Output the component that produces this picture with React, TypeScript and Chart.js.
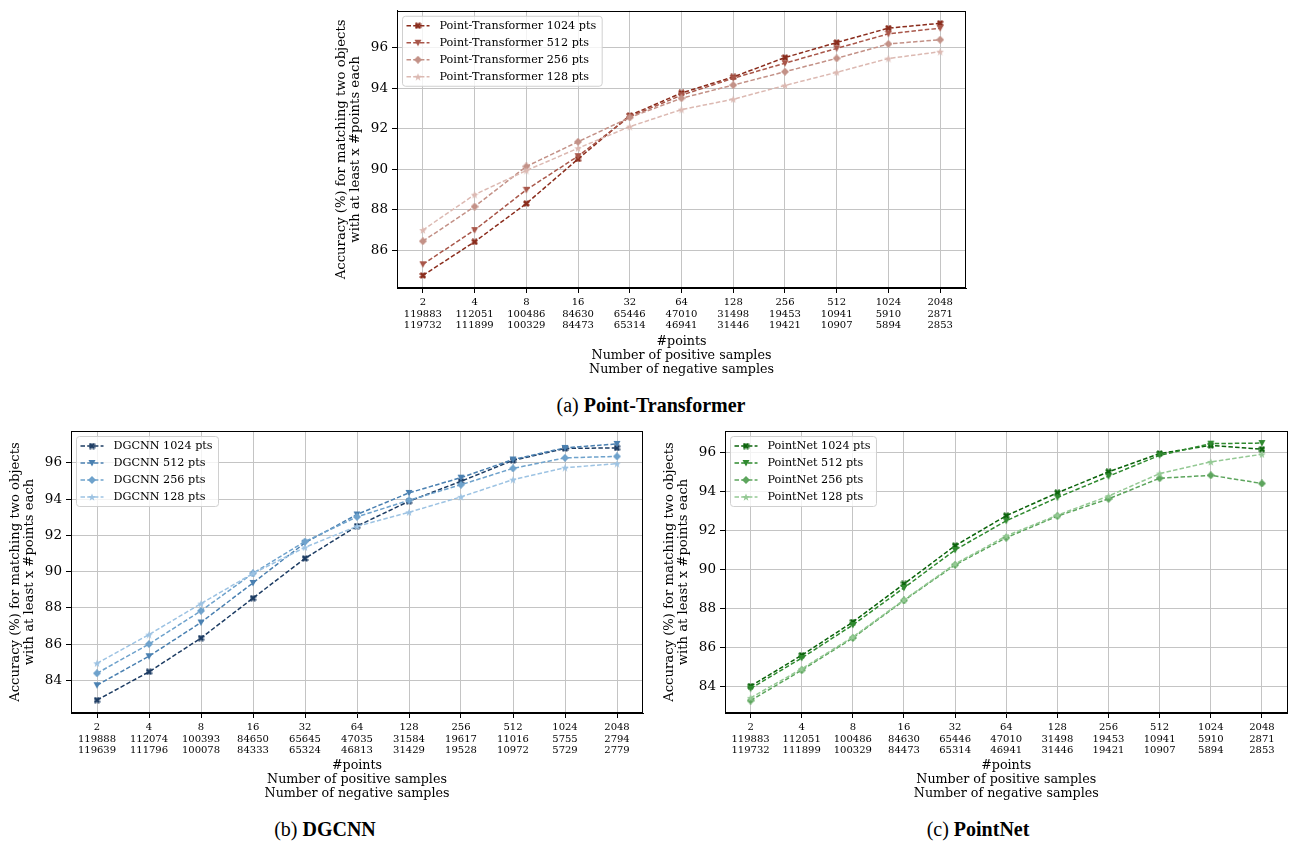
import React, { useEffect, useRef } from "react";
import { Chart, registerables } from "chart.js";

Chart.register(...registerables);

// ---------- data ----------
const pointCounts = ["2", "4", "8", "16", "32", "64", "128", "256", "512", "1024", "2048"];

const ptPositive = [119883, 112051, 100486, 84630, 65446, 47010, 31498, 19453, 10941, 5910, 2871];
const ptNegative = [119732, 111899, 100329, 84473, 65314, 46941, 31446, 19421, 10907, 5894, 2853];

const dgPositive = [119888, 112074, 100393, 84650, 65645, 47035, 31584, 19617, 11016, 5755, 2794];
const dgNegative = [119639, 111796, 100078, 84333, 65324, 46813, 31429, 19528, 10972, 5729, 2779];

const pnPositive = [119883, 112051, 100486, 84630, 65446, 47010, 31498, 19453, 10941, 5910, 2871];
const pnNegative = [119732, 111899, 100329, 84473, 65314, 46941, 31446, 19421, 10907, 5894, 2853];

const seriesSuffixes = ["1024 pts", "512 pts", "256 pts", "128 pts"];

const pt1024 = [84.76, 86.42, 88.31, 90.51, 92.66, 93.77, 94.56, 95.52, 96.26, 96.97, 97.21];
const pt512 = [85.31, 87.0, 88.99, 90.65, 92.6, 93.66, 94.5, 95.24, 95.97, 96.69, 96.97];
const pt256 = [86.45, 88.16, 90.14, 91.36, 92.56, 93.51, 94.16, 94.82, 95.48, 96.19, 96.4];
const pt128 = [87.0, 88.75, 89.94, 91.04, 92.11, 92.95, 93.46, 94.14, 94.79, 95.47, 95.81];

const dg1024 = [82.92, 84.48, 86.34, 88.54, 90.73, 92.51, 93.88, 94.98, 96.13, 96.79, 96.82];
const dg512 = [83.74, 85.34, 87.2, 89.38, 91.59, 93.15, 94.34, 95.18, 96.18, 96.82, 97.04];
const dg256 = [84.4, 86.01, 87.84, 89.91, 91.66, 93.02, 93.93, 94.79, 95.69, 96.27, 96.35];
const dg128 = [84.95, 86.53, 88.24, 89.9, 91.34, 92.5, 93.27, 94.12, 95.07, 95.73, 95.95];

const pn1024 = [84.0, 85.59, 87.3, 89.26, 91.23, 92.77, 93.95, 95.03, 95.97, 96.39, 96.19];
const pn512 = [83.88, 85.45, 87.15, 89.06, 91.01, 92.51, 93.71, 94.8, 95.88, 96.48, 96.51];
const pn256 = [83.26, 84.82, 86.48, 88.41, 90.24, 91.64, 92.75, 93.64, 94.7, 94.85, 94.43];
const pn128 = [83.4, 84.89, 86.53, 88.44, 90.29, 91.73, 92.8, 93.78, 94.94, 95.54, 95.93];

const yTickStep = 2;
const xTitleLines = ["#points", "Number of positive samples", "Number of negative samples"];
const yTitleLines = ["Accuracy (%) for matching two objects", "with at least x #points each"];

const ptColors = ["#8a2c1c", "#a9574a", "#c39187", "#dcb9b2"];
const dgColors = ["#1d3c63", "#4a80b1", "#6ea2cc", "#9dc3e3"];
const pnColors = ["#0b640b", "#2f8a2f", "#5da55d", "#94c994"];

const markerShapes = ["X", "v", "D", "*"];

const SERIF = "'DejaVu Serif', serif";

// ---------- markers ----------
function makeMarker(shape: string, color: string): HTMLCanvasElement {
  const s = shape === "X" ? 7 : 8;
  const c = document.createElement("canvas");
  c.width = s;
  c.height = s;
  const g = c.getContext("2d") as CanvasRenderingContext2D;
  g.fillStyle = color;
  g.strokeStyle = color;
  const m = s / 2;
  if (shape === "X") {
    g.lineWidth = 2.6;
    g.beginPath();
    g.moveTo(1, 1);
    g.lineTo(s - 1, s - 1);
    g.moveTo(s - 1, 1);
    g.lineTo(1, s - 1);
    g.stroke();
    g.fillRect(m - 1.5, m - 1.5, 3, 3);
  } else if (shape === "v") {
    g.beginPath();
    g.moveTo(0.5, 1);
    g.lineTo(s - 0.5, 1);
    g.lineTo(m, s - 0.5);
    g.closePath();
    g.fill();
  } else if (shape === "D") {
    g.beginPath();
    g.moveTo(m, 0);
    g.lineTo(s, m);
    g.lineTo(m, s);
    g.lineTo(0, m);
    g.closePath();
    g.fill();
  } else {
    const R = s / 2;
    const r = R * 0.42;
    g.beginPath();
    for (let i = 0; i < 10; i++) {
      const ang = -Math.PI / 2 + (i * Math.PI) / 5;
      const rad = i % 2 === 0 ? R : r;
      const x = m + rad * Math.cos(ang);
      const y = m + 0.4 + rad * Math.sin(ang);
      if (i === 0) g.moveTo(x, y);
      else g.lineTo(x, y);
    }
    g.closePath();
    g.fill();
  }
  return c;
}

// ---------- plugins ----------
const framePlugin = {
  id: "frame",
  afterDraw(chart: any) {
    const { ctx, chartArea: a } = chart;
    ctx.save();
    ctx.strokeStyle = "#000";
    ctx.lineWidth = 1;
    const l = Math.round(a.left) + 0.5;
    const t = Math.round(a.top) + 0.5;
    const r = Math.round(a.right) - 0.5;
    const b = Math.round(a.bottom) - 0.5;
    ctx.strokeRect(l, t, r - l, b - t);
    ctx.restore();
  },
};

const legendPlugin = {
  id: "mplLegend",
  afterDraw(chart: any) {
    const { ctx, chartArea: a } = chart;
    const ds = chart.data.datasets;
    ctx.save();
    ctx.font = `11.2px ${SERIF}`;
    let maxW = 0;
    ds.forEach((d: any) => {
      maxW = Math.max(maxW, ctx.measureText(d.label).width);
    });
    const bx = a.left + 5.5;
    const by = a.top + 5.5;
    const bw = 37 + maxW + 6;
    const bh = 70;
    const rad = 3;
    ctx.beginPath();
    ctx.moveTo(bx + rad, by);
    ctx.lineTo(bx + bw - rad, by);
    ctx.quadraticCurveTo(bx + bw, by, bx + bw, by + rad);
    ctx.lineTo(bx + bw, by + bh - rad);
    ctx.quadraticCurveTo(bx + bw, by + bh, bx + bw - rad, by + bh);
    ctx.lineTo(bx + rad, by + bh);
    ctx.quadraticCurveTo(bx, by + bh, bx, by + bh - rad);
    ctx.lineTo(bx, by + rad);
    ctx.quadraticCurveTo(bx, by, bx + rad, by);
    ctx.closePath();
    ctx.fillStyle = "rgba(255,255,255,0.8)";
    ctx.fill();
    ctx.strokeStyle = "#d0d0d0";
    ctx.lineWidth = 1;
    ctx.stroke();
    ds.forEach((d: any, i: number) => {
      const y = by + 9.5 + i * 17;
      ctx.save();
      ctx.strokeStyle = d.borderColor;
      ctx.lineWidth = d.borderWidth;
      ctx.setLineDash(d.borderDash);
      ctx.beginPath();
      ctx.moveTo(bx + 4, y);
      ctx.lineTo(bx + 27, y);
      ctx.stroke();
      ctx.restore();
      const mk = d.pointStyle as HTMLCanvasElement;
      ctx.drawImage(mk, bx + 15.5 - mk.width / 2, y - mk.height / 2);
      ctx.fillStyle = "#000";
      ctx.textBaseline = "middle";
      ctx.textAlign = "left";
      ctx.fillText(d.label, bx + 37, y + 0.5);
    });
    ctx.restore();
  },
};

// ---------- panel ----------
type PanelProps = {
  left: number;
  top: number;
  width: number;
  height: number;
  padTop: number;
  padRight: number;
  xHeight: number;
  yWidth: number;
  yMin: number;
  yMax: number;
  prefix: string;
  positives: number[];
  negatives: number[];
  series: number[][];
  colors: string[];
};

function Panel(p: PanelProps) {
  const ref = useRef<HTMLCanvasElement | null>(null);
  useEffect(() => {
    if (!ref.current) return;
    const labels = pointCounts.map((c, i) => [c, String(p.positives[i]), String(p.negatives[i])]);
    const datasets = p.series.map((vals, i) => ({
      label: `${p.prefix} ${seriesSuffixes[i]}`,
      data: vals,
      borderColor: p.colors[i],
      backgroundColor: p.colors[i],
      borderWidth: 1.5,
      borderDash: [4.5, 2.2],
      pointStyle: makeMarker(markerShapes[i], p.colors[i]),
      pointRadius: 4,
      tension: 0,
      fill: false,
      order: 3 - i,
    }));
    const chart = new Chart(ref.current, {
      type: "line",
      data: { labels, datasets },
      options: {
        animation: false,
        responsive: false,
        maintainAspectRatio: false,
        events: [],
        layout: { padding: { top: p.padTop, right: p.padRight, bottom: 0, left: 0 } },
        plugins: {
          legend: { display: false },
          tooltip: { enabled: false },
          title: { display: false },
        },
        scales: {
          x: {
            type: "category",
            offset: true,
            grid: {
              color: "#c4c4c4",
              lineWidth: 1,
              tickColor: "#000",
              tickLength: 5,
              offset: false,
            },
            border: { color: "#000", width: 1 },
            ticks: {
              font: { family: SERIF, size: 10, lineHeight: 1.15 },
              color: "#000",
              padding: 4,
              maxRotation: 0,
              minRotation: 0,
              autoSkip: false,
            },
            title: {
              display: true,
              text: xTitleLines,
              font: { family: SERIF, size: 12.7, lineHeight: 1.12 },
              color: "#000",
              padding: { top: 2, bottom: 0 },
            },
            afterFit: (s: any) => {
              s.height = p.xHeight;
            },
          },
          y: {
            type: "linear",
            min: p.yMin,
            max: p.yMax,
            grid: {
              color: "#c4c4c4",
              lineWidth: 1,
              tickColor: "#000",
              tickLength: 5,
            },
            border: { color: "#000", width: 1 },
            ticks: {
              stepSize: yTickStep,
              includeBounds: false,
              font: { family: SERIF, size: 13.5, lineHeight: 1 },
              color: "#000",
              padding: 4,
            },
            title: {
              display: true,
              text: yTitleLines,
              font: { family: SERIF, size: 13.2, lineHeight: 1.1 },
              color: "#000",
              padding: { top: 5, bottom: 0 },
            },
            afterFit: (s: any) => {
              s.width = p.yWidth;
            },
          },
        },
      } as any,
      plugins: [framePlugin, legendPlugin],
    });
    return () => chart.destroy();
  }, []);
  return (
    <canvas
      ref={ref}
      width={p.width}
      height={p.height}
      style={{ position: "absolute", left: p.left, top: p.top, width: p.width, height: p.height }}
    />
  );
}

function Caption(props: { cx: number; cy: number; tag: string; name: string }) {
  return (
    <div
      style={{
        position: "absolute",
        left: props.cx - 200,
        top: props.cy - 12,
        width: 400,
        height: 24,
        lineHeight: "24px",
        textAlign: "center",
        fontFamily: "'Liberation Serif', 'Times New Roman', serif",
        fontSize: 20,
        color: "#000",
        whiteSpace: "nowrap",
      }}
    >
      {props.tag} <b>{props.name}</b>
    </div>
  );
}

export default function App() {
  return (
    <div style={{ position: "absolute", left: 0, top: 0, width: 1293, height: 841, background: "#fff" }}>
      <Panel
        left={329}
        top={0}
        width={649}
        height={377}
        padTop={7}
        padRight={12}
        xHeight={89}
        yWidth={68}
        yMin={84.14}
        yMax={97.83}
        prefix="Point-Transformer"
        positives={ptPositive}
        negatives={ptNegative}
        series={[pt1024, pt512, pt256, pt128]}
        colors={ptColors}
      />
      <Panel
        left={3}
        top={420}
        width={650}
        height={381}
        padTop={11}
        padRight={10}
        xHeight={88}
        yWidth={68}
        yMin={82.21}
        yMax={97.75}
        prefix="DGCNN"
        positives={dgPositive}
        negatives={dgNegative}
        series={[dg1024, dg512, dg256, dg128]}
        colors={dgColors}
      />
      <Panel
        left={657}
        top={420}
        width={636}
        height={381}
        padTop={11}
        padRight={2}
        xHeight={88}
        yWidth={68}
        yMin={82.62}
        yMax={97.13}
        prefix="PointNet"
        positives={pnPositive}
        negatives={pnNegative}
        series={[pn1024, pn512, pn256, pn128]}
        colors={pnColors}
      />
      <Caption cx={651} cy={405} tag="(a)" name="Point-Transformer" />
      <Caption cx={325} cy={829} tag="(b)" name="DGCNN" />
      <Caption cx={978} cy={829} tag="(c)" name="PointNet" />
    </div>
  );
}
